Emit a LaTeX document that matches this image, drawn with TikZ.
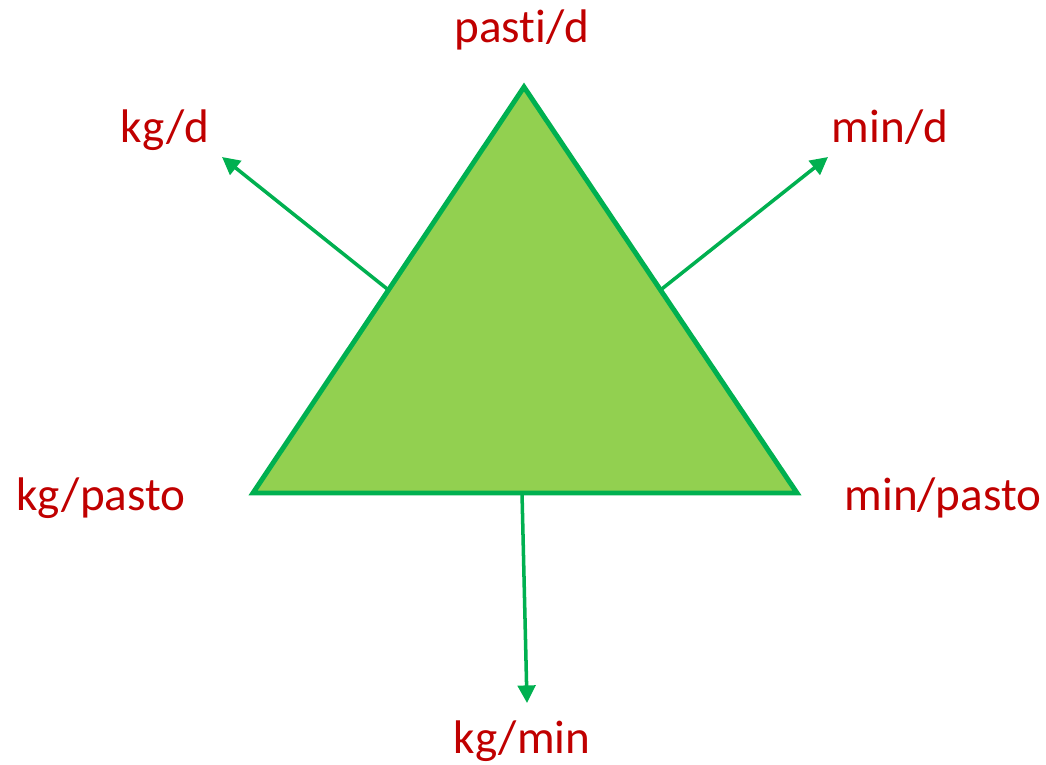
\documentclass[tikz,border=0pt]{standalone}
\usepackage{fontspec}
\setmainfont[Ligatures={NoCommon}]{Carlito}
\usepackage{xcolor}
\usetikzlibrary{arrows.meta, positioning, calc}

\definecolor{leafgreen}{HTML}{92D050}
\definecolor{darkgreen}{HTML}{00B050}
\definecolor{unitred}{HTML}{C00000}

\begin{document}
\begin{tikzpicture}[x=0.01cm, y=-0.01cm,
            unit/.style={text=unitred, anchor=base, inner sep=0pt, font=\fontsize{13.4}{16}\selectfont},
            tri/.style={draw=darkgreen, fill=leafgreen, line width=1.4pt, line join=miter},
            arrow/.style={draw=darkgreen, line width=1pt, -{Triangle[length=5pt, width=5pt]}}]
            \useasboundingbox (0,0) rectangle (1046,764);

            % Triangle corners
            \coordinate (top) at (524,87);
            \coordinate (left) at (253,493);
            \coordinate (right) at (797,493);
            \draw [tri] (top) -- (right) -- (left) -- cycle;

            % Arrow starts and ends
            \coordinate (base mid) at (522,493);
            \coordinate (kgd end) at (222,157);
            \coordinate (mind end) at (828,157);
            \coordinate (kgmin end) at (527,703);

            % Labels
            \node (pastid) [unit] at (522,43) {past\kern0pt i/d};
            \node (kgd) [unit] at (165,143) {kg/d};
            \node (mind) [unit] at (890,143) {min/d};
            \node (kgpasto) [unit] at (101,510) {kg/pasto};
            \node (minpasto) [unit] at (943,510) {min/pasto};
            \node (kgmin) [unit] at (522,753) {kg/min};

            % Arrows
            \draw [arrow] ($(top)!0.5!(left)$) -- (kgd end);
            \draw [arrow] ($(top)!0.5!(right)$) -- (mind end);
            \draw [arrow] (base mid) -- (kgmin end);
        \end{tikzpicture}
\end{document}
